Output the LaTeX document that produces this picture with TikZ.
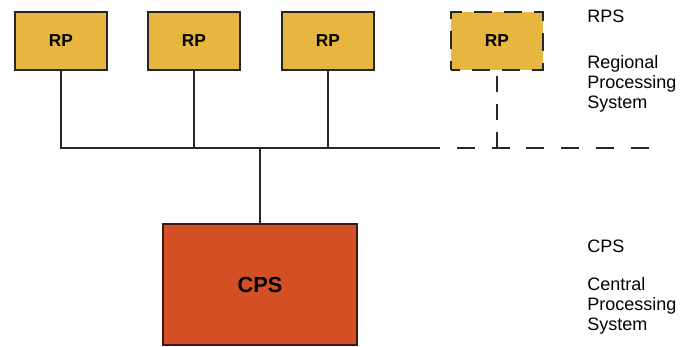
\documentclass[tikz,border=0pt]{standalone}
\usepackage{fontspec}
\setmainfont{Liberation Sans}
\usepackage{tikz}
\usetikzlibrary{positioning, calc}
\definecolor{rpyellow}{RGB}{230,182,62}
\definecolor{cpsred}{RGB}{210,80,36}
\definecolor{cpsedge}{RGB}{60,28,18}

\begin{document}
\begin{tikzpicture}[
  x=0.025cm, y=-0.025cm,
  box/.style={rectangle, draw=black!85, line width=1.5pt, align=center,
    font=\fontsize{12.3}{14}\selectfont\bfseries},
  rpnd/.style={box, fill=rpyellow, minimum width=2.3cm, minimum height=1.45cm},
  rpdash/.style={rpnd, dash pattern=on 0.45cm off 0.3cm, dash phase=0.225cm,
    line width=1.8pt},
  cpsnd/.style={box, fill=cpsred, draw=cpsedge, minimum width=4.85cm,
    minimum height=3.02cm, font=\fontsize{15.5}{17}\selectfont\bfseries},
  lbl/.style={anchor=north west, align=left, inner sep=0pt,
    font=\fontsize{12.8}{14.4}\selectfont},
  ln/.style={line width=1.3pt, black!85},
  dln/.style={ln, dash pattern=on 0.45cm off 0.42cm},
  vdln/.style={ln, dash pattern=on 0.4cm off 0.3cm},
]
  \useasboundingbox (0,0) rectangle (693,347);

  % regional processors
  \node[rpnd] (rp1) at (61,41) {RP};
  \node[rpnd] (rp2) at (194,41) {RP};
  \node[rpnd] (rp3) at (328,41) {RP};
  \node[rpdash] (rp4) at (497,41) {RP};

  % central processor
  \node[cpsnd] (cps) at (260,284.5) {CPS};

  % bus
  \coordinate (bus) at (0,148);
  \coordinate (busmid) at (422,148);
  \coordinate (busend) at (657,148);
  \draw[ln] (rp1.south) -- (rp1.south |- bus) -- (busmid);
  \draw[ln] (rp2.south) -- (rp2.south |- bus);
  \draw[ln] (rp3.south) -- (rp3.south |- bus);
  \draw[ln] (cps.north) -- (cps.north |- bus);
  \draw[dln] (busmid) -- (busend);
  \draw[vdln] (rp4.south |- bus) -- (rp4.south);

  % side labels
  \node[lbl] (rpsname) at (587,10) {RPS};
  \node[lbl] (rpstext) at (587,55) {Regional\\Processing\\System};
  \node[lbl] (cpsname) at (587,240) {CPS};
  \node[lbl] (cpstext) at (587,277) {Central\\Processing\\System};
\end{tikzpicture}
\end{document}
